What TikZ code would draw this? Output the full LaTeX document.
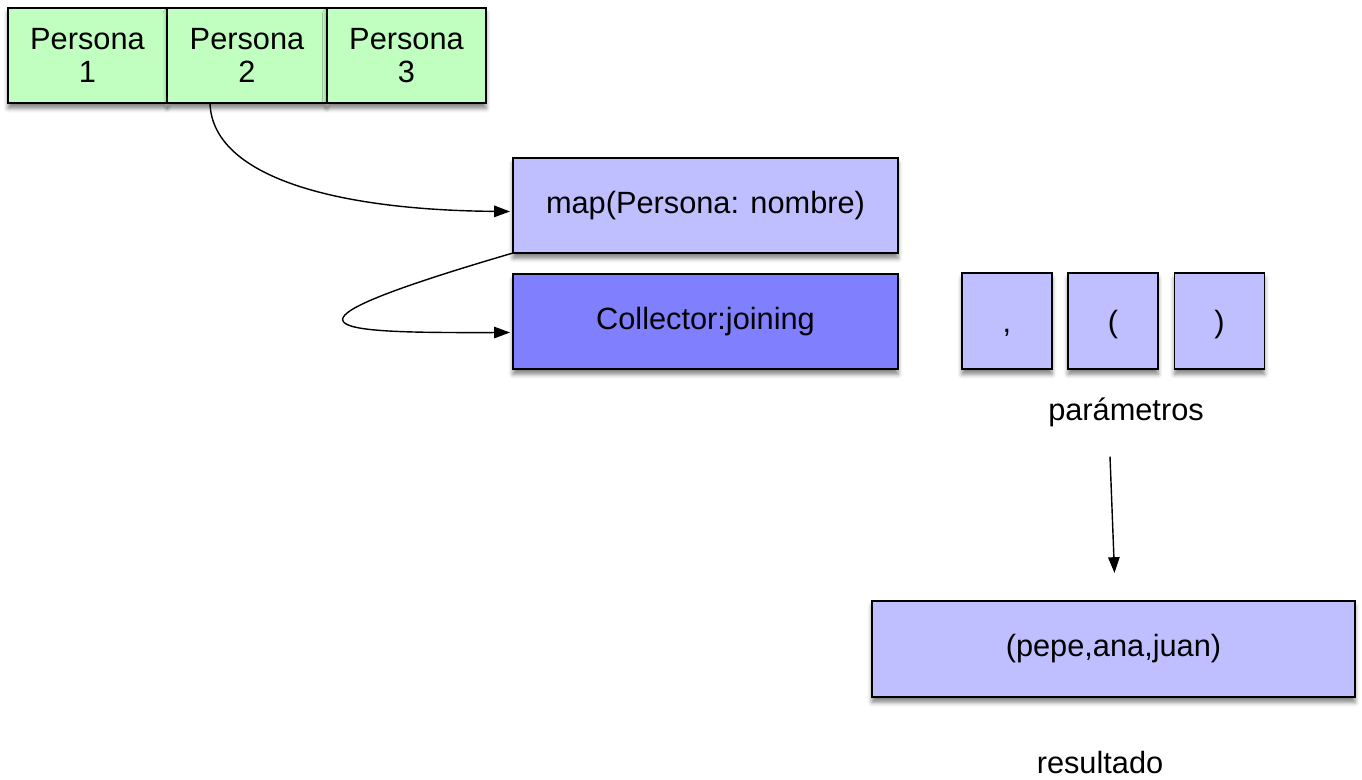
\documentclass[tikz,border=0pt]{standalone}
\usepackage{fontspec}
\setmainfont{Liberation Sans}
\usetikzlibrary{arrows.meta,calc,shadows.blur}

\definecolor{verdeclaro}{RGB}{192,255,192}
\definecolor{lilaclaro}{RGB}{191,191,255}
\definecolor{lilaoscuro}{RGB}{128,128,255}

\begin{document}
\begin{tikzpicture}[x=0.02cm,y=-0.02cm]
		\tikzstyle{every node}+=[inner sep=0pt, outer sep=0pt, font=\fontsize{17.5}{19}\selectfont]
		\tikzstyle{caja}=[draw=black, line width=1.1pt, align=center,
			blur shadow={shadow xshift=0pt, shadow yshift=-3pt, shadow blur radius=2.5pt, shadow opacity=50}]
		\tikzstyle{signo}=[caja, fill=lilaclaro, minimum width=90*0.02cm, minimum height=96*0.02cm, text height=16pt, text depth=2.4pt]
		\tikzstyle{flecha}=[black, line width=0.8pt, -{Triangle[length=9pt,width=6.5pt]}]
		\useasboundingbox (0,0) rectangle (1362,780);
		% personas
		\node [caja, fill=verdeclaro, minimum width=159*0.02cm, minimum height=95*0.02cm] (p1) at (87.5,55.5) {Persona\\1};
		\node [caja, fill=verdeclaro, minimum width=159*0.02cm, minimum height=95*0.02cm] (p2) at (247,55.5) {Persona\\2};
		\node [caja, fill=verdeclaro, minimum width=159*0.02cm, minimum height=95*0.02cm] (p3) at (406.5,55.5) {Persona\\3};
		% operaciones
		\node [caja, fill=lilaclaro, minimum width=385*0.02cm, minimum height=95*0.02cm] (map) at (705.5,205.5) {map(Persona: nombre)};
		\node [caja, fill=lilaoscuro, minimum width=385*0.02cm, minimum height=95*0.02cm] (coll) at (705.5,321.5) {Collector:joining};
		% parametros
		\node [signo] (coma) at (1007,321) {,};
		\node [signo] (abre) at (1113,321) {(};
		\node [signo] (cierra) at (1219.5,321) {)};
		\draw (1126,412) node (param) {parámetros};
		% resultado
		\node [caja, fill=lilaclaro, minimum width=483*0.02cm, minimum height=96*0.02cm] (res) at (1113.5,649) {(pepe,ana,juan)};
		\draw (1100,763) node (resul) {resultado};
		% flechas
		\draw [flecha] ($(p2.south)+(-37,0)$) .. controls (212,175) and (330,210) .. ($(map.west)+(-3,6)$);
		\draw [flecha] (map.south west) .. controls (250,330) and (330,333) .. ($(coll.west)+(-3,11)$);
		\draw [flecha] ($(param.south)+(-16,30)$) -- ($(res.north)+(1,-28)$);
	\end{tikzpicture}
\end{document}
